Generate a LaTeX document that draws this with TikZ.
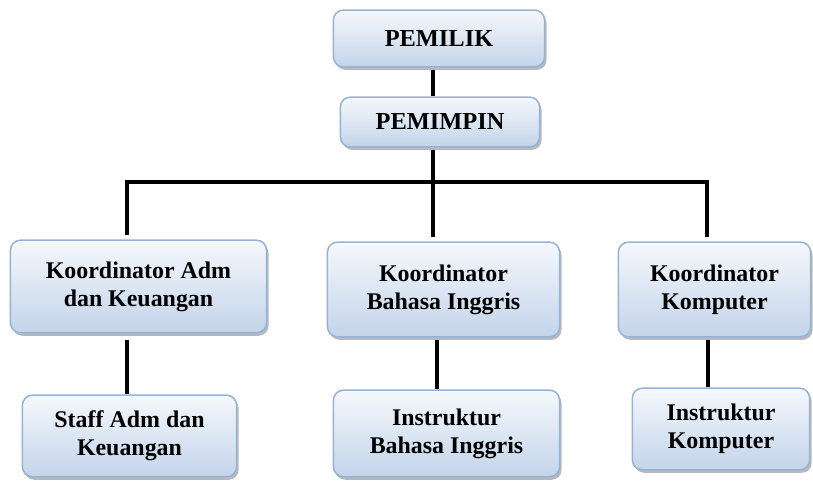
\documentclass[tikz,border=0pt]{standalone}
\usepackage{fontspec}
\setmainfont{Liberation Serif}
\usetikzlibrary{shadows}
\definecolor{boxline}{HTML}{95B3D7}
\definecolor{boxtop}{HTML}{F5F8FC}
\definecolor{boxbot}{HTML}{C3D4EA}
\tikzset{
  unit/.style={draw=boxline, line width=1.5bp, rounded corners=10bp,
    top color=boxtop, bottom color=boxbot,
    drop shadow={shadow xshift=2bp, shadow yshift=-3bp, fill=black!50, opacity=0.55},
    align=center, inner sep=0pt, font=\fontsize{24}{28}\selectfont\bfseries},
  head/.style={unit, font=\fontsize{24.5}{28}\selectfont\bfseries},
  link/.style={line width=4bp}
}

\begin{document}
\begin{tikzpicture}[x=1bp,y=-1bp]
\useasboundingbox (0,0) rectangle (813,482);
\node[head, minimum width=212, minimum height=57] (pemilik) at (439,38.5) {PEMILIK};
\node[head, minimum width=200, minimum height=50] (pemimpin) at (440,122) {PEMIMPIN};
\node[unit, minimum width=257, minimum height=93] (koordAdm) at (138.5,286.5) {Koordinator Adm\\dan Keuangan};
\node[unit, minimum width=233, minimum height=95] (koordBing) at (443.5,289.5) {Koordinator\\Bahasa Inggris};
\node[unit, minimum width=193, minimum height=95] (koordKomp) at (714.5,289.5) {Koordinator\\Komputer};
\node[unit, minimum width=215, minimum height=82] (staffAdm) at (129.5,436) {Staff Adm dan\\Keuangan};
\node[unit, minimum width=227, minimum height=87] (instrBing) at (446.5,433.5) {Instruktur\\Bahasa Inggris};
\node[unit, minimum width=178, minimum height=82] (instrKomp) at (721,429) {Instruktur\\Komputer};
\coordinate (bar) at (433,182);
\coordinate (barL) at (125,182);
\coordinate (barR) at (709,182);
\draw[link] (pemilik.south -| bar) ++(0,2) -- (pemimpin.north -| bar);
\draw[link] (pemimpin.south -| bar) ++(0,2) -- (bar);
\draw[link] (barL) -- (barR);
\draw[link] (barL) ++(2,0) -- ++(0,53);
\draw[link] (bar) -- ++(0,55);
\draw[link] (barR) ++(-2,0) -- ++(0,55);
\draw[link] (koordAdm.south -| 127,0) ++(0,6) -- (staffAdm.north -| 127,0);
\draw[link] (koordBing.south -| 437,0) ++(0,2) -- (instrBing.north -| 437,0);
\draw[link] (koordKomp.south -| 708,0) ++(0,2) -- (instrKomp.north -| 708,0);
\end{tikzpicture}
\end{document}
